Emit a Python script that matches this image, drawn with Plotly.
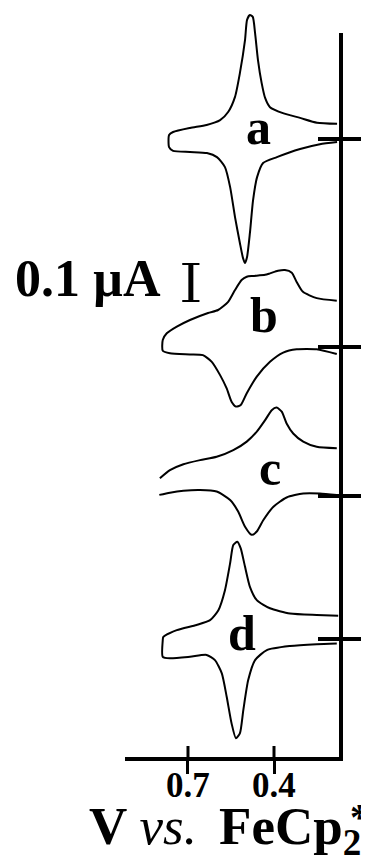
import plotly.graph_objects as go

# ---------------- data (V vs. FeCp2*, current in microampere) ----------------
V_a = [0.180, 0.250, 0.309, 0.369, 0.414, 0.431, 0.443, 0.456, 0.466, 0.474, 0.484,
       0.494, 0.501, 0.519, 0.536, 0.560, 0.588, 0.635, 0.693, 0.752, 0.766, 0.766,
       0.752, 0.693, 0.634, 0.599, 0.571, 0.553, 0.536, 0.519, 0.508, 0.501, 0.494,
       0.484, 0.473, 0.459, 0.438, 0.390, 0.309, 0.240, 0.180]
I_a = [0.041, 0.044, 0.057, 0.070, 0.086, 0.111, 0.151, 0.214, 0.286, 0.330, 0.335,
       0.322, 0.268, 0.178, 0.114, 0.073, 0.051, 0.038, 0.030, 0.019, 0.011, -0.022,
       -0.032, -0.035, -0.038, -0.049, -0.076, -0.130, -0.211, -0.281, -0.322, -0.335,
       -0.319, -0.254, -0.165, -0.103, -0.065, -0.049, -0.027, -0.014, -0.008]

V_b = [0.181, 0.251, 0.299, 0.321, 0.338, 0.362, 0.386, 0.414, 0.431, 0.473, 0.495,
       0.513, 0.536, 0.560, 0.595, 0.630, 0.693, 0.739, 0.774, 0.788, 0.788, 0.763,
       0.693, 0.648, 0.617, 0.588, 0.565, 0.548, 0.533, 0.516, 0.495, 0.460, 0.414,
       0.368, 0.321, 0.251, 0.181]
I_b = [0.125, 0.132, 0.149, 0.176, 0.201, 0.208, 0.206, 0.199, 0.195, 0.192, 0.190,
       0.181, 0.154, 0.122, 0.100, 0.092, 0.073, 0.055, 0.037, 0.019, -0.010, -0.017,
       -0.020, -0.022, -0.040, -0.076, -0.112, -0.148, -0.161, -0.157, -0.125, -0.080,
       -0.040, -0.015, -0.006, -0.006, -0.019]

V_c = [0.181, 0.251, 0.298, 0.333, 0.356, 0.373, 0.391, 0.408, 0.431, 0.460, 0.495,
       0.542, 0.600, 0.658, 0.716, 0.763, 0.798, None,
       0.800, 0.763, 0.716, 0.658, 0.600, 0.553, 0.525, 0.501, 0.478, 0.460, 0.437,
       0.402, 0.356, 0.298, 0.240, 0.181]
I_c = [0.129, 0.133, 0.147, 0.169, 0.196, 0.228, 0.239, 0.232, 0.205, 0.174, 0.147,
       0.124, 0.106, 0.097, 0.086, 0.070, 0.048, None,
       0.003, 0.009, 0.014, 0.016, 0.012, -0.011, -0.042, -0.083, -0.105, -0.096,
       -0.065, -0.029, -0.004, 0.007, 0.007, 0.003]

V_d = [0.176, 0.251, 0.344, 0.414, 0.460, 0.484, 0.501, 0.516, 0.528, 0.542, 0.553,
       0.571, 0.594, 0.623, 0.670, 0.739, 0.786, 0.788, 0.788, 0.763, 0.693, 0.635,
       0.606, 0.582, 0.565, 0.548, 0.533, 0.519, 0.507, 0.490, 0.466, 0.425, 0.344,
       0.251, 0.181]
I_d = [0.063, 0.065, 0.069, 0.083, 0.105, 0.141, 0.195, 0.245, 0.263, 0.254, 0.205,
       0.132, 0.078, 0.051, 0.038, 0.024, 0.006, -0.003, -0.048, -0.052, -0.048,
       -0.043, -0.057, -0.093, -0.156, -0.228, -0.268, -0.255, -0.192, -0.111, -0.057,
       -0.030, -0.019, -0.014, -0.012]

labels = ["a", "b", "c", "d"]
tick_vals = [0.7, 0.4]
tick_text = ["0.7", "0.4"]
scale_bar_uA = 0.1

# ---------------- layout constants (page body adds an 8 px offset) ----------------
PAGE = 8
W, H = 369 - PAGE, 862 - PAGE
L, R, T, B = 125 - PAGE, 28, 0, 105
X_RANGE = [0.9197, 0.1663]
PX_PER_UA = 370.0
plot_w = W - L - R
plot_h = H - T - B
Y_TOP = plot_h / PX_PER_UA
BASE_PX = [139, 347, 496, 639]           # zero-current positions (reference pixels)
OFFSETS = [(H - B - (y - PAGE)) / PX_PER_UA for y in BASE_PX]
LABEL_POS = [(258, 127), (264, 315), (270, 468), (242, 633)]  # reference pixels
FONT = "Liberation Serif, Times New Roman, serif"


def px(x):
    return (x - PAGE - L) / plot_w


def py(y):
    return (H - B - (y - PAGE)) / plot_h


curves = [(V_a, I_a), (V_b, I_b), (V_c, I_c), (V_d, I_d)]

fig = go.Figure()
for (v, i), off in zip(curves, OFFSETS):
    fig.add_trace(go.Scatter(
        x=v, y=[None if c is None else c + off for c in i],
        mode="lines", line=dict(color="black", width=2, shape="spline", smoothing=0.6),
        connectgaps=False, hoverinfo="skip", showlegend=False))

shapes = []
# vertical current axis
shapes.append(dict(type="line", xref="paper", yref="paper", x0=1, x1=1,
                   y0=-4 / plot_h, y1=py(33), line=dict(color="black", width=4)))
# baseline (zero-current) ticks crossing the vertical axis
for off in OFFSETS:
    shapes.append(dict(type="line", xref="paper", yref="y",
                       x0=px(318), x1=px(364), y0=off, y1=off,
                       line=dict(color="black", width=4)))
# inner part of the x ticks
for tv in tick_vals:
    shapes.append(dict(type="line", xref="x", yref="paper",
                       x0=tv, x1=tv, y0=0, y1=11 / plot_h,
                       line=dict(color="black", width=3)))
# scale bar (0.1 uA)
sb_x = 0.690
sb_y0 = (H - B - (301 - PAGE)) / PX_PER_UA
shapes.append(dict(type="line", xref="x", yref="y", x0=sb_x, x1=sb_x,
                   y0=sb_y0, y1=sb_y0 + scale_bar_uA, line=dict(color="black", width=5)))
for yy in (sb_y0, sb_y0 + scale_bar_uA):
    shapes.append(dict(type="line", xref="x", yref="y", x0=sb_x + 0.030, x1=sb_x - 0.030,
                       y0=yy, y1=yy, line=dict(color="black", width=2)))

annotations = []
for lab, (lx, ly) in zip(labels, LABEL_POS):
    annotations.append(dict(text=lab, xref="paper", yref="paper", x=px(lx), y=py(ly),
                            showarrow=False, xanchor="center", yanchor="middle",
                            font=dict(family=FONT, size=50, color="black", weight="bold")))
for tv, tt in zip(tick_vals, tick_text):
    annotations.append(dict(text=tt, xref="x", yref="paper", x=tv, y=py(785),
                            showarrow=False, xanchor="center", yanchor="middle",
                            font=dict(family=FONT, size=35, color="black", weight="bold")))
annotations.append(dict(text="0.1 \u00b5A", xref="paper", yref="paper", x=px(88), y=py(278),
                        showarrow=False, xanchor="center", yanchor="middle",
                        font=dict(family=FONT, size=52, color="black", weight="bold")))
annotations.append(dict(text="V <span style='font-weight:normal'><i>vs.</i></span> \u2006FeCp<sub>2</sub>",
                        xref="paper", yref="paper", x=px(87), y=py(830),
                        showarrow=False, xanchor="left", yanchor="middle",
                        font=dict(family=FONT, size=53, color="black", weight="bold")))
annotations.append(dict(text="*", xref="paper", yref="paper", x=px(359), y=py(817),
                        showarrow=False, xanchor="center", yanchor="middle",
                        font=dict(family=FONT, size=38, color="black", weight="bold")))

fig.update_layout(
    width=W, height=H, margin=dict(l=L, r=R, t=T, b=B, pad=0),
    plot_bgcolor="white", paper_bgcolor="white",
    xaxis=dict(range=X_RANGE, showgrid=False, zeroline=False, showline=True,
               linecolor="black", linewidth=4, ticks="outside", ticklen=13, tickwidth=3,
               tickcolor="black", tickvals=tick_vals, showticklabels=False),
    yaxis=dict(range=[0, Y_TOP], showgrid=False, zeroline=False,
               showline=False, showticklabels=False, ticks=""),
    shapes=shapes, annotations=annotations,
)

fig.write_html("out.html")
